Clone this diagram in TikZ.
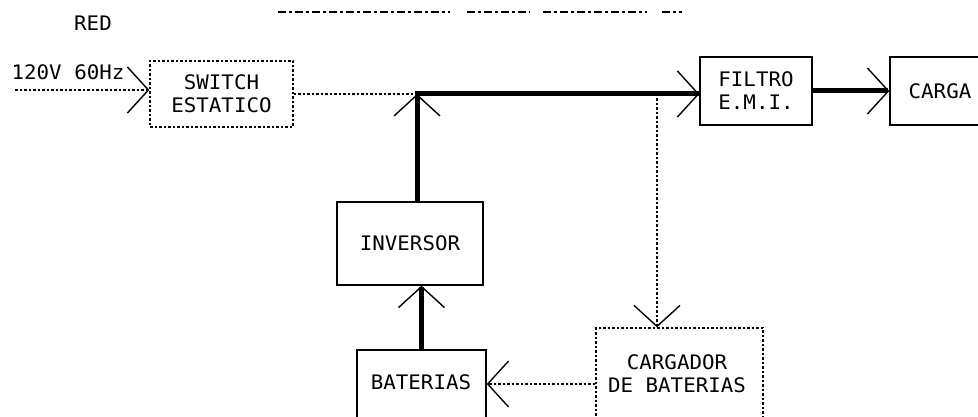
\documentclass[tikz,border=0pt]{standalone}
\usepackage{fontspec}
\setmonofont{DejaVu Sans Mono}[FakeStretch=1.04]
\usetikzlibrary{arrows.meta}
\begin{document}
\begin{tikzpicture}[x=1pt,y=-1pt,
  font=\ttfamily\fontsize{20}{23}\selectfont,
  box/.style={draw, line width=1.3pt, inner sep=0pt, anchor=center},
  dbox/.style={box, dash pattern=on 2.5pt off 2pt},
  dotl/.style={line width=1.6pt, dash pattern=on 2.5pt off 2pt},
  heavy/.style={line width=5pt},
  hdr/.style={line width=1.6pt, dash pattern=on 8pt off 3pt on 3pt off 3pt},
  tip/.style={-{Straight Barb[length=21pt,width=46pt,line width=1.4pt]}},
  lbl/.style={align=center, inner sep=0pt}
]
\useasboundingbox (0,0) rectangle (978,417);
\clip (0,0) rectangle (978,417);

% faded header line
\draw[hdr] (278,12) -- (450,12);
\draw[hdr] (467,12) -- (530,12);
\draw[hdr] (543,12) -- (647,12);
\draw[hdr] (662,12) -- (682,12);

\node[lbl] (red) at (93,23) {RED};
\node[lbl] (volt) at (68,72) {120V 60Hz};

\node[dbox, minimum width=143pt, minimum height=66pt, align=center] (sw) at (221.5,94) {SWITCH\\ESTATICO};
\node[box, minimum width=112pt, minimum height=68pt, align=center] (fil) at (756,91) {FILTRO\\E.M.I.};
\node[box, minimum width=100pt, minimum height=68pt] (carga) at (940,91) {CARGA};
\node[box, minimum width=146pt, minimum height=83pt] (inv) at (410,243.5) {INVERSOR};
\node[box, minimum width=129pt, minimum height=80pt] (bat) at (421.5,390) {};
\node[lbl] (batlbl) at (421,382) {BATERIAS};
\node[dbox, minimum width=167pt, minimum height=112pt] (cg) at (679.5,384) {};
\node[lbl] (cglbl) at (677,374) {CARGADOR\\DE BATERIAS};

\coordinate (in) at (15,90);
\coordinate (j) at (417,94);
\coordinate (t) at (657,94);

\draw[dotl, tip] (in) -- (in -| sw.west);
\draw[dotl] (sw.east) -- (j);
\draw[heavy, line cap=rect, tip] (j) -- (j -| fil.west);
\draw[heavy, tip] (j |- inv.north) -- (j);
\draw[heavy, tip] (fil.east) -- (carga.west);
\draw[dotl, tip] (t) -- (t |- cg.north);
\draw[dotl, tip] (cg.west) -- (cg.west -| bat.east);
\draw[heavy, tip] (bat.north) -- (inv.south -| bat.north);
\end{tikzpicture}
\end{document}
